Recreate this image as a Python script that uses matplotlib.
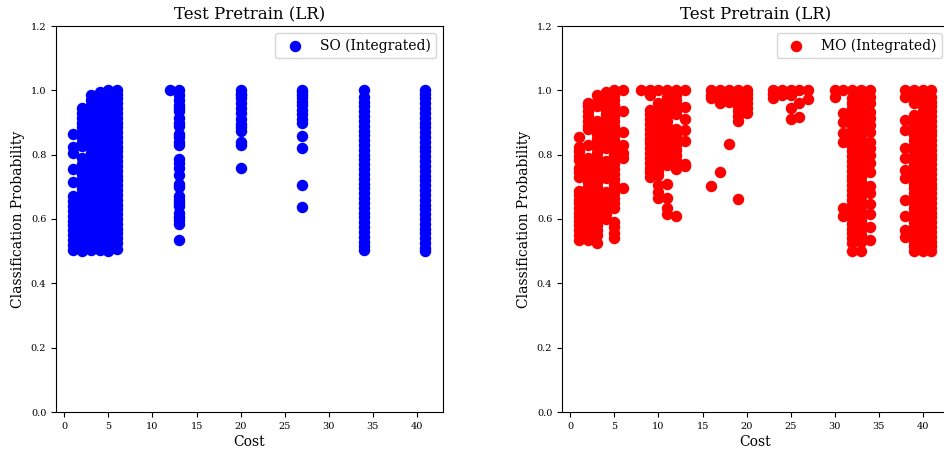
import matplotlib
matplotlib.use("Agg")
import matplotlib.pyplot as plt

plt.rcParams['font.family'] = 'DejaVu Serif'

# values, one list per cost column
so_costs = [1, 2, 3, 4, 5, 6, 12, 13, 20, 27, 34, 41]
so_probs = [
    [.505, .52, .535, .55, .565, .58, .595, .61, .625, .64, .655, .67, .715, .755, .805, .825, .865],
    [.5, .515, .53, .545, .56, .575, .59, .605, .62, .635, .65, .665, .68, .695, .71, .725, .74, .755, .77, .79,
     .826, .84, .855, .87, .885, .9, .915, .93, .945],
    [.505, .52, .535, .55, .565, .58, .595, .61, .625, .64, .655, .67, .685, .7, .715, .73, .745, .76, .775, .79,
     .805, .82, .835, .85, .865, .88, .895, .91, .925, .94, .955, .97, .985],
    [.505, .52, .535, .55, .565, .58, .595, .61, .625, .64, .655, .67, .685, .7, .715, .73, .745, .76, .775, .79,
     .805, .82, .835, .85, .865, .88, .895, .91, .925, .94, .955, .97, .985, .995],
    [.5, .515, .53, .545, .56, .575, .59, .605, .62, .635, .65, .665, .68, .695, .71, .725, .74, .755, .77, .785,
     .8, .815, .83, .845, .86, .875, .89, .905, .92, .935, .95, .965, .98, 1.0],
    [.508, .525, .54, .555, .57, .585, .6, .615, .63, .645, .66, .675, .69, .705, .72, .735, .75, .765, .78, .795,
     .81, .825, .84, .855, .87, .885, .9, .915, .93, .945, .96, .975, .99, 1.0],
    [1.0],
    [.535, .585, .597, .607, .62, .64, .65, .66, .67, .70, .71, .737, .76, .773, .785, .83, .84, .855, .865,
     .89, .9, .915, .935, .945, .955, .97, .985, 1.0],
    [.757, .83, .84, .875, .885, .895, .91, .93, .945, .96, .975, .985, .99, 1.0],
    [.637, .706, .82, .859, .9, .91, .925, .94, .955, .965, .975, .985, .995, 1.0],
    [.505, .515, .53, .545, .56, .575, .59, .605, .62, .635, .65, .665, .68, .695, .71, .725, .74, .755, .77, .785,
     .8, .815, .83, .845, .86, .875, .89, .905, .92, .935, .95, .965, .98, 1.0],
    [.5, .51, .525, .54, .555, .57, .585, .6, .615, .63, .645, .66, .675, .69, .705, .72, .735, .75, .765, .78,
     .795, .81, .825, .84, .855, .87, .885, .9, .915, .93, .945, .96, .975, .99, 1.0],
]

mo_costs = [1, 2, 3, 4, 5, 6, 8, 9, 10, 11, 12, 13, 16, 17, 18, 19, 20, 23, 24, 25, 26, 27,
            30, 31, 32, 33, 34, 38, 39, 40, 41]
mo_probs = [
    [.535, .55, .566, .58, .595, .607, .62, .635, .649, .66, .675, .688, .73, .745, .76, .783, .795, .812, .825, .854],
    [.535, .55, .565, .58, .595, .61, .625, .64, .655, .67, .685, .7, .715, .73, .745, .76, .775, .79,
     .83, .88, .89, .905, .92, .935, .95, .96],
    [.525, .55, .565, .58, .595, .61, .625, .64, .655, .67, .685, .7, .715, .73, .745, .76, .775, .79, .805,
     .82, .835, .85, .865, .88, .895, .906, .95, .965, .985],
    [.6, .615, .63, .645, .66, .675, .685, .728, .74, .755, .77, .78, .822, .835, .85, .865, .88, .895, .91,
     .925, .94, .955, .97, .985, .995],
    [.54, .555, .575, .59, .635, .65, .665, .68, .695, .71, .725, .74, .755, .77, .785, .8, .815, .83, .845,
     .86, .875, .89, .905, .92, .935, .955, .97, .985, 1.0],
    [.695, .79, .805, .83, .87, .935, 1.0],
    [1.0],
    [.731, .745, .76, .775, .79, .805, .82, .835, .85, .865, .88, .895, .91, .925, .938, .985, 1.0],
    [.666, .685, .706, .737, .75, .765, .78, .795, .81, .825, .84, .855, .87, .885, .9, .915, .93, .945, .96, 1.0],
    [.614, .635, .666, .709, .768, .785, .8, .815, .83, .845, .86, .875, .89, .905, .92, .935, .95, .965, .98, 1.0],
    [.609, .754, .783, .8, .815, .83, .845, .86, .88, .925, .94, .955, .97, .985, 1.0],
    [.765, .77, .843, .877, .91, .949, 1.0],
    [.703, .975, .985, 1.0],
    [.747, .96, .98, 1.0],
    [.832, .965, .98, 1.0],
    [.661, .906, .92, .935, .95, .965, .985, 1.0],
    [.93, .945, .96, .975, .99, 1.0],
    [.975, .99, 1.0],
    [.985, 1.0],
    [.911, .944, .985, 1.0],
    [.918, .96, 1.0],
    [.973, 1.0],
    [.98, 1.0],
    [.61, .634, .84, .866, .902, .928, 1.0],
    [.5, .525, .54, .555, .57, .585, .6, .615, .63, .645, .66, .675, .69, .705, .72, .735, .75, .765, .78, .795,
     .81, .825, .84, .855, .87, .885, .9, .915, .93, .945, .96, .975, 1.0],
    [.5, .53, .55, .565, .58, .595, .61, .625, .64, .655, .67, .685, .7, .715, .73, .745, .76, .775, .79, .805,
     .82, .835, .85, .865, .88, .895, .91, .925, .94, .955, .97, .985, 1.0],
    [.535, .576, .616, .647, .68, .704, .747, .773, .799, .82, .84, .872, .892, .913, .934, .96, .98, 1.0],
    [.545, .566, .61, .66, .727, .752, .789, .82, .876, .907, .98, 1.0],
    [.5, .515, .53, .545, .56, .575, .59, .605, .62, .635, .65, .665, .68, .695, .71, .725, .74, .755, .77, .785,
     .8, .815, .83, .845, .86, .875, .89, .905, .924, .96, .98, 1.0],
    [.5, .515, .53, .545, .56, .575, .59, .605, .62, .635, .65, .665, .68, .695, .71, .725, .74, .755, .77, .785,
     .8, .815, .83, .845, .86, .875, .89, .905, .92, .935, .95, .965, .98, 1.0],
    [.5, .515, .53, .545, .56, .575, .59, .605, .62, .635, .65, .665, .68, .695, .71, .725, .74, .755, .77, .785,
     .8, .815, .83, .845, .86, .875, .89, .905, .92, .935, .95, .965, .98, 1.0],
]

x_ticks = [0, 5, 10, 15, 20, 25, 30, 35, 40]
y_ticks = [0.0, 0.2, 0.4, 0.6, 0.8, 1.0, 1.2]


def draw(ax, costs, probs, color, label):
    xs = []
    ys = []
    for c, col in zip(costs, probs):
        xs += [c] * len(col)
        ys += col
    ax.scatter(xs, ys, s=68, c=color, linewidths=0, label=label)
    ax.set_xlim(-0.96, 43)
    ax.set_ylim(0, 1.2)
    ax.set_xticks(x_ticks)
    ax.set_yticks(y_ticks)
    ax.tick_params(labelsize=7)
    ax.set_xlabel("Cost", fontsize=10, labelpad=3)
    ax.set_ylabel("Classification Probability", fontsize=10, labelpad=4)
    ax.set_title("Test Pretrain (LR)", fontsize=12, pad=5)
    ax.legend(loc="upper right", fontsize=10)


fig = plt.figure(figsize=(9.45, 4.53), dpi=100)
ax1 = fig.add_axes([56 / 945, 41 / 453, 387 / 945, 386 / 453])
# the right panel runs a little past the edge of the picture, as in the original
ax2 = fig.add_axes([562 / 945, 41 / 453, 387 / 945, 386 / 453])

draw(ax1, so_costs, so_probs, "blue", "SO (Integrated)")
draw(ax2, mo_costs, mo_probs, "red", "MO (Integrated)")

plt.savefig("out.png", dpi=100)
